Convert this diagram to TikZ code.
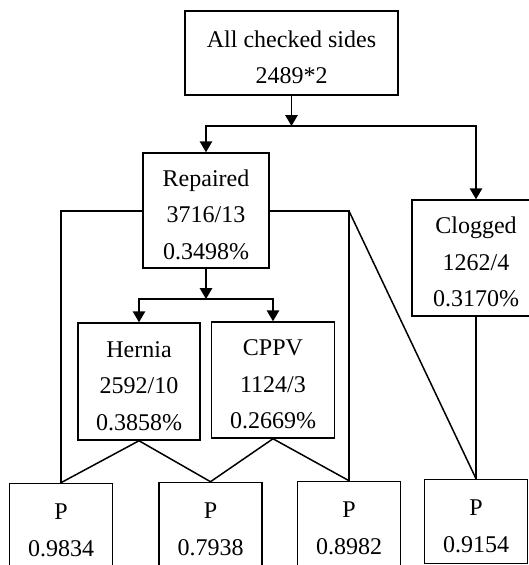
\documentclass[tikz,border=0pt]{standalone}
\usepackage{fontspec}
\setmainfont{Liberation Serif}
\usepackage{tikz}
\usetikzlibrary{arrows.meta,positioning,calc}
\newcommand{\topgap}{\rule{0pt}{25pt}}
\tikzset{
  blk/.style={draw, line width=1.5pt, align=center, inner sep=0pt,
    font=\fontsize{24}{36.5}\selectfont},
  pbox/.style={blk, minimum width=103pt, minimum height=84pt},
  arr/.style={-{Triangle[width=12.5pt,length=11pt]}},
}
\begin{document}
\begin{tikzpicture}[x=1pt, y=-1pt, line width=1.5pt]
  \clip (0,0) rectangle (529,565);
  \node[blk, minimum width=213pt, minimum height=84pt] (all) at (291.5,53) {\topgap All checked sides\\2489*2};
  \node[blk, minimum width=126pt, minimum height=115pt] (rep) at (206,210.5) {\topgap Repaired\\3716/13\\0.3498\%};
  \node[blk, minimum width=128pt, minimum height=116pt] (clg) at (476,258) {\topgap Clogged\\1262/4\\0.3170\%};
  \node[blk, minimum width=122pt, minimum height=117pt] (her) at (139,381.5) {\topgap Hernia\\2592/10\\0.3858\%};
  \node[blk, minimum width=123pt, minimum height=116pt] (cppv) at (273,380) {\topgap CPPV\\1124/3\\0.2669\%};
  \node[pbox, anchor=north] (p1) at (61,482.7) {\topgap P\\0.9834};
  \node[pbox, anchor=north] (p2) at (210.5,481.7) {\topgap P\\0.7938};
  \node[pbox, anchor=north] (p3) at (349,480.7) {\topgap P\\0.8982};
  \node[pbox, anchor=north] (p4) at (476,478.7) {\topgap P\\0.9154};
  \coordinate (j1) at (291.5,126);
  \coordinate (j2) at (206,299);
  \coordinate (k) at (349,211);
  \draw[arr] (all) -- (j1);
  \draw[arr] (j1) -| (rep);
  \draw[arr] (j1) -| (clg);
  \draw[arr] (rep) -- (j2);
  \draw[arr] (j2) -| (her);
  \draw[arr] (j2) -| (cppv);
  \draw (rep.west |- k) -| (p1.north);
  \draw (rep.east |- k) -- (k) -- (p3.north);
  \draw (k) -- (p4.north);
  \draw (p1.north) -- (her.south) -- (p2.north) -- (cppv.south) -- (p3.north);
  \draw (clg) -- (p4);
\end{tikzpicture}
\end{document}
